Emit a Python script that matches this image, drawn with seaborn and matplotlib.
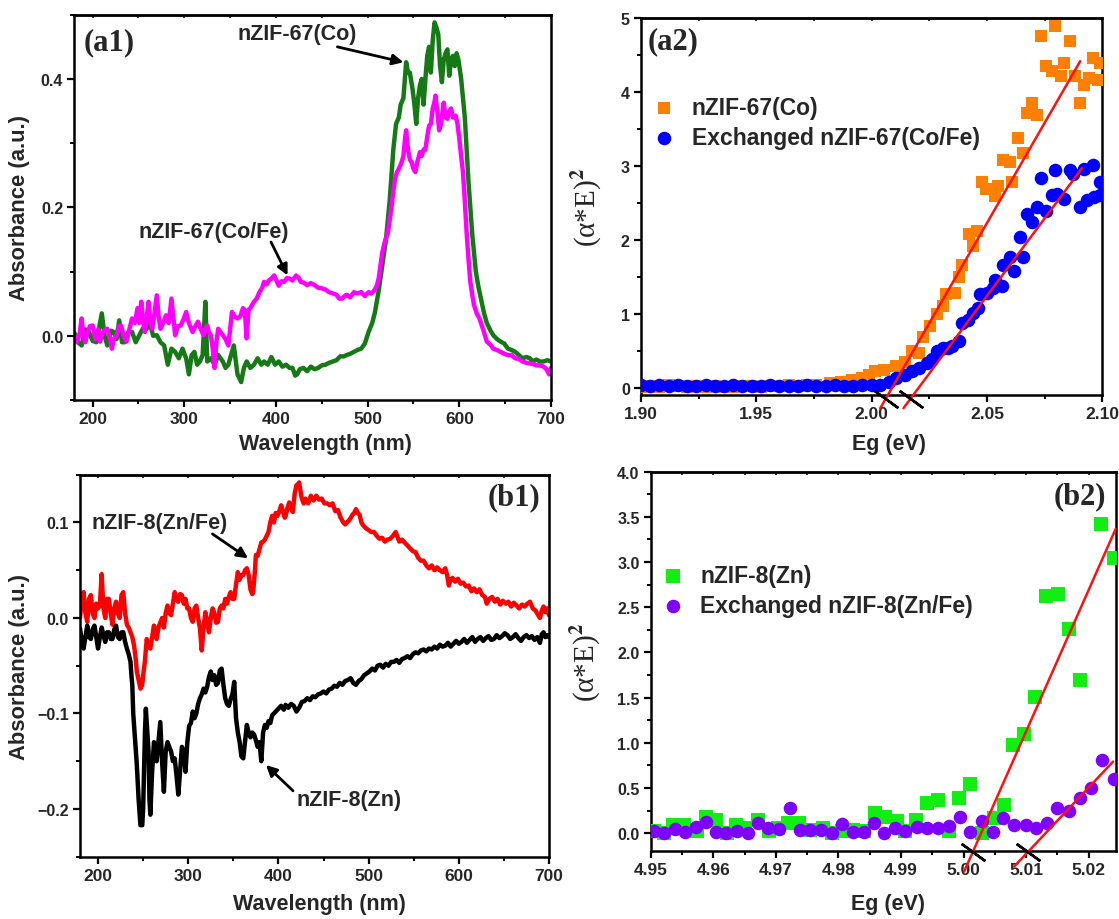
import matplotlib
matplotlib.use("Agg")
import matplotlib.pyplot as plt
from matplotlib.ticker import MultipleLocator, FormatStrFormatter
import seaborn as sns

# ---------------- (a1) UV-vis spectra, nZIF-67 ----------------
a1_co_wl = [180, 184, 188, 192, 196, 200, 204, 207, 210, 213, 216, 220, 223, 226, 229, 232, 235, 239,
            243, 247, 251, 255, 259, 262, 266, 270, 274, 278, 282, 286, 290, 294, 298, 302, 305, 308,
            311, 314, 317, 320, 323, 325, 329, 333, 337, 342, 345, 348, 351, 354, 358, 362, 365, 368,
            372, 376, 380, 384, 387, 391, 395, 399, 403, 407, 411, 415, 418, 421, 423, 426, 430, 434,
            438, 442, 446, 450, 454, 458, 462, 466, 470, 474, 477, 481, 485, 489, 493, 497, 501, 505,
            508, 512, 516, 520, 524, 528, 531, 534, 536, 539, 542, 544, 546, 549, 551, 553, 555, 557,
            559, 561, 563, 565, 567, 569, 571, 573, 575, 577, 579, 581, 583, 585, 587, 589, 591, 593,
            595, 597, 599, 602, 604, 606, 608, 610, 612, 614, 616, 618, 621, 624, 627, 630, 634, 637,
            641, 645, 649, 653, 657, 661, 665, 669, 673, 677, 680, 684, 688, 692, 696, 700]
a1_co_abs = [0.005, -0.01, -0.015, 0.01, 0.006, -0.008, -0.01, 0.012, 0.035, 0.0, -0.015, 0.008,
             0.006, -0.005, 0.024, -0.01, -0.01, 0.006, 0.006, -0.01, 0.001, 0.012, 0.011, 0.022, 0.0,
             0.001, -0.01, -0.015, -0.045, -0.02, -0.025, -0.035, -0.02, -0.035, -0.06, -0.03, -0.025,
             -0.045, -0.04, -0.03, 0.053, -0.04, -0.035, -0.045, -0.03, -0.04, -0.05, -0.045, -0.03,
             -0.015, -0.06, -0.072, -0.05, -0.04, -0.05, -0.045, -0.035, -0.045, -0.04, -0.045, -0.033,
             -0.045, -0.04, -0.048, -0.045, -0.05, -0.05, -0.062, -0.06, -0.052, -0.05, -0.055, -0.048,
             -0.052, -0.05, -0.046, -0.045, -0.042, -0.04, -0.038, -0.032, -0.032, -0.03, -0.028,
             -0.025, -0.022, -0.02, -0.012, 0.006, 0.02, 0.037, 0.07, 0.11, 0.15, 0.21, 0.29, 0.33,
             0.34, 0.36, 0.37, 0.426, 0.41, 0.41, 0.384, 0.36, 0.33, 0.37, 0.39, 0.40, 0.36, 0.40,
             0.436, 0.45, 0.41, 0.46, 0.488, 0.48, 0.47, 0.42, 0.395, 0.43, 0.44, 0.446, 0.405, 0.43,
             0.436, 0.42, 0.44, 0.43, 0.40, 0.37, 0.34, 0.29, 0.24, 0.20, 0.16, 0.13, 0.10, 0.075,
             0.055, 0.035, 0.02, 0.008, 0.001, -0.005, -0.009, -0.012, -0.02, -0.022, -0.025, -0.03,
             -0.035, -0.033, -0.035, -0.04, -0.037, -0.04, -0.04, -0.038, -0.04]

a1_cofe_wl = [180, 183, 186, 188, 190, 192, 194, 197, 200, 203, 206, 208, 211, 214, 216, 219, 221, 223,
              226, 229, 231, 234, 237, 240, 243, 246, 249, 251, 253, 255, 257, 259, 261, 263, 265, 267,
              270, 272, 274, 277, 280, 283, 286, 288, 290, 293, 296, 299, 302, 305, 309, 312, 315, 318,
              321, 323, 325, 327, 329, 331, 333, 335, 337, 340, 342, 345, 348, 350, 352, 355, 358, 361,
              364, 366, 368, 370, 372, 374, 376, 379, 382, 385, 387, 390, 392, 395, 398, 400, 403, 406,
              409, 412, 415, 418, 422, 425, 427, 430, 434, 438, 442, 446, 450, 454, 458, 462, 466, 469,
              472, 475, 477, 481, 485, 489, 493, 497, 501, 504, 507, 510, 512, 514, 516, 519, 522, 524,
              526, 528, 530, 532, 534, 537, 539, 541, 542, 544, 546, 548, 550, 552, 554, 556, 557, 559,
              561, 563, 565, 567, 569, 571, 573, 574, 576, 578, 580, 583, 585, 587, 589, 591, 593, 596,
              598, 600, 602, 604, 606, 608, 610, 612, 614, 616, 619, 622, 626, 630, 634, 637, 641, 645,
              649, 653, 657, 661, 665, 669, 673, 677, 681, 684, 688, 692, 695, 698, 700]
a1_cofe_abs = [0.0, -0.01, 0.005, 0.027, 0.0, -0.01, 0.003, 0.015, 0.016, -0.005, 0.01, -0.009, 0.005,
               0.01, 0.011, -0.005, -0.02, -0.005, 0.0, 0.015, 0.016, 0.0, -0.009, 0.01, 0.027, 0.02,
               0.043, 0.02, 0.053, 0.025, 0.006, 0.03, 0.053, 0.02, 0.011, 0.03, 0.063, 0.03, 0.011,
               0.02, 0.032, 0.02, 0.058, 0.03, 0.001, 0.015, 0.016, 0.025, 0.037, 0.02, 0.006, 0.015,
               0.022, 0.01, 0.001, 0.01, 0.016, 0.005, 0.001, -0.02, -0.05, -0.01, 0.011, 0.005, 0.001,
               -0.005, -0.015, 0.01, 0.037, 0.03, 0.027, 0.03, 0.043, 0.04, -0.004, 0.04, 0.043, 0.048,
               0.053, 0.058, 0.068, 0.075, 0.084, 0.08, 0.086, 0.089, 0.094, 0.088, 0.078, 0.085, 0.084,
               0.09, 0.089, 0.086, 0.094, 0.09, 0.084, 0.083, 0.079, 0.082, 0.079, 0.075, 0.074, 0.072,
               0.068, 0.066, 0.064, 0.058, 0.058, 0.062, 0.064, 0.06, 0.068, 0.066, 0.068, 0.062, 0.068,
               0.066, 0.07, 0.078, 0.089, 0.11, 0.13, 0.148, 0.16, 0.18, 0.20, 0.225, 0.245, 0.255, 0.26,
               0.27, 0.28, 0.31, 0.32, 0.29, 0.275, 0.27, 0.26, 0.255, 0.27, 0.28, 0.286, 0.28, 0.29,
               0.29, 0.31, 0.327, 0.33, 0.354, 0.365, 0.374, 0.35, 0.32, 0.33, 0.363, 0.34, 0.338, 0.35,
               0.354, 0.34, 0.343, 0.33, 0.307, 0.28, 0.255, 0.21, 0.16, 0.12, 0.084, 0.065, 0.048,
               0.035, 0.027, 0.01, -0.009, -0.014, -0.02, -0.022, -0.025, -0.028, -0.03, -0.03, -0.035,
               -0.036, -0.04, -0.042, -0.043, -0.044, -0.046, -0.046, -0.048, -0.052, -0.06, -0.05]

# ---------------- (b1) UV-vis spectra, nZIF-8 ----------------
b1_znfe_wl = [180, 182, 184, 186, 188, 190, 192, 194, 196, 198, 200, 202, 204, 206, 208, 210, 212, 214,
              216, 218, 220, 222, 224, 226, 228, 230, 232, 234, 236, 238, 240, 242, 243, 245, 247, 249,
              250, 252, 254, 256, 258, 260, 262, 264, 265, 267, 269, 271, 273, 275, 277, 279, 281, 283,
              285, 287, 289, 291, 293, 295, 297, 299, 301, 303, 305, 307, 309, 311, 313, 315, 317, 319,
              321, 323, 325, 327, 329, 331, 333, 335, 337, 339, 341, 343, 345, 347, 349, 351, 353, 355,
              357, 359, 361, 363, 365, 367, 369, 371, 372, 374, 375, 377, 379, 381, 383, 385, 387, 389,
              391, 393, 395, 397, 399, 401, 403, 405, 407, 408, 410, 412, 414, 416, 418, 420, 422, 423,
              425, 426, 428, 430, 433, 436, 439, 442, 445, 448, 451, 454, 457, 460, 463, 466, 469, 472,
              474, 476, 479, 482, 484, 486, 488, 490, 492, 494, 497, 500, 503, 506, 509, 512, 515, 518,
              521, 524, 527, 530, 532, 534, 537, 540, 543, 546, 549, 552, 555, 558, 561, 564, 567, 570,
              573, 576, 579, 582, 585, 587, 589, 591, 593, 596, 599, 602, 605, 608, 611, 614, 617, 620,
              623, 626, 629, 631, 634, 637, 640, 643, 646, 649, 652, 655, 658, 661, 664, 667, 670, 673,
              676, 679, 682, 685, 688, 690, 692, 694, 696, 698, 700]
b1_znfe_abs = [0.0, 0.02, 0.027, 0.005, -0.004, 0.02, 0.024, 0.005, 0.0, 0.015, 0.01, 0.013, 0.046,
               0.01, 0.0, 0.02, 0.02, 0.005, -0.007, 0.01, 0.017, 0.005, 0.0, 0.024, 0.027, 0.005,
               -0.007, -0.01, -0.015, -0.02, -0.029, -0.045, -0.056, -0.065, -0.074, -0.07, -0.06,
               -0.045, -0.022, -0.03, -0.032, -0.02, -0.008, -0.02, -0.022, -0.01, -0.005, 0.0, -0.01,
               0.005, 0.013, 0.005, 0.003, 0.015, 0.027, 0.02, 0.017, 0.025, 0.024, 0.015, 0.02, 0.01,
               0.01, 0.0, -0.004, 0.01, 0.013, 0.0, -0.011, -0.034, -0.01, 0.006, -0.005, -0.015, 0.0,
               0.01, 0.005, -0.005, -0.004, 0.01, 0.013, 0.01, 0.02, 0.015, 0.022, 0.027, 0.02, 0.02,
               0.035, 0.048, 0.04, 0.045, 0.045, 0.05, 0.052, 0.045, 0.03, 0.025, 0.027, 0.05, 0.066,
               0.065, 0.072, 0.079, 0.08, 0.082, 0.086, 0.09, 0.10, 0.107, 0.10, 0.11, 0.107, 0.112,
               0.118, 0.112, 0.105, 0.107, 0.115, 0.121, 0.115, 0.111, 0.13, 0.139, 0.14, 0.142, 0.13,
               0.125, 0.12, 0.125, 0.12, 0.128, 0.123, 0.128, 0.124, 0.125, 0.12, 0.12, 0.118, 0.12,
               0.112, 0.113, 0.105, 0.10, 0.098, 0.10, 0.103, 0.108, 0.11, 0.114, 0.11, 0.108, 0.10,
               0.097, 0.094, 0.092, 0.09, 0.09, 0.086, 0.083, 0.084, 0.08, 0.082, 0.083, 0.086, 0.09,
               0.085, 0.08, 0.082, 0.079, 0.076, 0.073, 0.07, 0.069, 0.063, 0.06, 0.06, 0.055, 0.052,
               0.055, 0.05, 0.053, 0.05, 0.048, 0.052, 0.045, 0.034, 0.04, 0.042, 0.038, 0.041, 0.036,
               0.037, 0.033, 0.034, 0.028, 0.031, 0.027, 0.03, 0.024, 0.022, 0.015, 0.02, 0.022, 0.017,
               0.02, 0.014, 0.018, 0.015, 0.017, 0.012, 0.016, 0.013, 0.01, 0.014, 0.012, 0.015, 0.017,
               0.01, 0.008, 0.003, 0.0, 0.008, 0.012, 0.006, 0.01, 0.003]

b1_zn_wl = [180, 182, 184, 186, 188, 190, 192, 194, 196, 198, 200, 202, 204, 206, 208, 210, 212, 214,
            216, 218, 220, 222, 224, 226, 228, 230, 232, 234, 236, 237, 238, 239, 241, 242, 243, 245,
            247, 249, 250, 252, 253, 254, 256, 257, 258, 260, 262, 264, 265, 267, 269, 271, 273, 275,
            277, 279, 281, 283, 285, 287, 289, 291, 293, 295, 297, 299, 301, 303, 305, 307, 309, 311,
            313, 315, 317, 319, 321, 323, 325, 327, 329, 331, 333, 335, 337, 339, 341, 343, 345, 347,
            349, 351, 353, 355, 357, 359, 361, 363, 365, 367, 369, 371, 373, 375, 377, 379, 381, 383,
            385, 387, 389, 391, 393, 395, 397, 400, 403, 406, 408, 411, 414, 417, 420, 423, 426, 429,
            432, 435, 438, 441, 444, 447, 450, 453, 456, 459, 462, 465, 468, 471, 474, 477, 480, 483,
            486, 489, 492, 495, 498, 501, 504, 507, 510, 513, 516, 519, 522, 525, 528, 531, 534, 537,
            540, 543, 546, 549, 552, 555, 558, 561, 564, 567, 570, 573, 576, 579, 582, 585, 588, 591,
            594, 597, 600, 603, 606, 609, 612, 615, 618, 621, 624, 627, 630, 633, 636, 639, 642, 645,
            648, 651, 654, 657, 660, 663, 666, 669, 672, 675, 678, 681, 684, 687, 690, 692, 694, 696,
            698, 700]
b1_zn_abs = [-0.011, -0.025, -0.032, -0.02, -0.008, -0.02, -0.022, -0.012, -0.008, -0.02, -0.032,
             -0.02, -0.01, -0.018, -0.025, -0.015, -0.015, -0.022, -0.022, -0.012, -0.008, -0.02,
             -0.022, -0.015, -0.015, -0.025, -0.032, -0.038, -0.046, -0.06, -0.07, -0.10, -0.126,
             -0.14, -0.154, -0.19, -0.217, -0.217, -0.20, -0.12, -0.095, -0.11, -0.14, -0.19, -0.206,
             -0.16, -0.13, -0.14, -0.15, -0.13, -0.109, -0.15, -0.182, -0.14, -0.13, -0.135, -0.14,
             -0.15, -0.147, -0.165, -0.185, -0.16, -0.135, -0.14, -0.161, -0.13, -0.113, -0.11, -0.098,
             -0.105, -0.10, -0.09, -0.084, -0.08, -0.074, -0.078, -0.072, -0.062, -0.056, -0.065, -0.06,
             -0.07, -0.068, -0.055, -0.053, -0.07, -0.084, -0.09, -0.092, -0.085, -0.08, -0.067, -0.105,
             -0.12, -0.13, -0.145, -0.147, -0.13, -0.112, -0.12, -0.125, -0.12, -0.122, -0.128, -0.135,
             -0.13, -0.15, -0.12, -0.112, -0.115, -0.108, -0.11, -0.102, -0.10, -0.098, -0.095, -0.092,
             -0.096, -0.091, -0.094, -0.09, -0.092, -0.098, -0.094, -0.088, -0.087, -0.084, -0.086,
             -0.082, -0.083, -0.08, -0.079, -0.077, -0.079, -0.075, -0.074, -0.071, -0.072, -0.068,
             -0.07, -0.066, -0.065, -0.063, -0.068, -0.07, -0.066, -0.064, -0.06, -0.058, -0.056,
             -0.053, -0.055, -0.05, -0.049, -0.052, -0.048, -0.05, -0.046, -0.046, -0.044, -0.047,
             -0.043, -0.042, -0.04, -0.042, -0.038, -0.036, -0.037, -0.034, -0.033, -0.035, -0.032,
             -0.033, -0.03, -0.032, -0.028, -0.03, -0.029, -0.026, -0.03, -0.027, -0.024, -0.027,
             -0.025, -0.022, -0.026, -0.023, -0.02, -0.025, -0.022, -0.02, -0.024, -0.021, -0.019,
             -0.023, -0.022, -0.018, -0.021, -0.019, -0.016, -0.018, -0.022, -0.02, -0.017, -0.021,
             -0.024, -0.02, -0.018, -0.021, -0.019, -0.023, -0.02, -0.026, -0.017, -0.015, -0.02,
             -0.018, -0.02]

# ---------------- (a2) Tauc plot, nZIF-67 ----------------
a2_co_eg = [1.900, 1.904, 1.908, 1.912, 1.916, 1.920, 1.924, 1.928, 1.932, 1.936, 1.940, 1.944, 1.948,
            1.952, 1.956, 1.960, 1.964, 1.968, 1.972, 1.976, 1.982, 1.9867, 1.9913, 1.996, 1.999,
            2.0014, 2.0053, 2.0107, 2.0146, 2.0176, 2.0207, 2.0223, 2.0254, 2.0285, 2.0308, 2.0324,
            2.0362, 2.0378, 2.0393, 2.0424, 2.0440, 2.0455, 2.0478, 2.0494, 2.0533, 2.0548, 2.0571,
            2.0598, 2.0610, 2.0633, 2.0656, 2.0672, 2.0695, 2.0718, 2.0734, 2.0757, 2.0780, 2.0796,
            2.0819, 2.0834, 2.0858, 2.0881, 2.0904, 2.0920, 2.0943, 2.0958, 2.0981, 2.0989]
a2_co_val = [0.02, 0.03, 0.02, 0.04, 0.03, 0.02, 0.03, 0.02, 0.03, 0.02, 0.02, 0.03, 0.03, 0.02,
             0.03, 0.03, 0.04, 0.03, 0.04, 0.05, 0.07, 0.09, 0.11, 0.14, 0.18, 0.23, 0.25, 0.30, 0.36,
             0.50, 0.48, 0.70, 0.84, 1.00, 1.11, 1.27, 1.29, 1.50, 1.66, 2.09, 1.93, 2.13, 2.79, 2.70,
             2.60, 2.74, 3.09, 3.06, 2.79, 3.38, 3.18, 3.72, 3.86, 3.70, 4.76, 4.36, 4.29, 4.90, 4.22,
             4.40, 4.70, 4.22, 3.86, 4.10, 4.20, 4.47, 4.17, 4.40]

a2_cofe_eg = [1.900, 1.904, 1.908, 1.912, 1.916, 1.920, 1.924, 1.928, 1.932, 1.936, 1.940, 1.944, 1.948,
              1.952, 1.956, 1.960, 1.964, 1.968, 1.972, 1.976, 1.980, 1.984, 1.988, 1.992, 1.996, 2.000,
              2.0037, 2.0076, 2.0107, 2.0146, 2.0176, 2.0207, 2.0238, 2.0262, 2.0285, 2.0308, 2.0331,
              2.0347, 2.0378, 2.0393, 2.0416, 2.0440, 2.0463, 2.0471, 2.0501, 2.0525, 2.0533, 2.0563,
              2.0571, 2.0598, 2.0618, 2.0641, 2.0656, 2.0672, 2.0695, 2.0718, 2.0734, 2.0757, 2.0780,
              2.0803, 2.0796, 2.0834, 2.0858, 2.0873, 2.0904, 2.0920, 2.0935, 2.0958, 2.0966, 2.0989,
              2.0989]
a2_cofe_val = [0.04, 0.03, 0.04, 0.03, 0.04, 0.03, 0.03, 0.04, 0.03, 0.03, 0.04, 0.03, 0.03, 0.03,
               0.04, 0.03, 0.03, 0.03, 0.04, 0.03, 0.03, 0.04, 0.03, 0.03, 0.04, 0.04, 0.05, 0.09, 0.14,
               0.18, 0.23, 0.27, 0.34, 0.39, 0.50, 0.54, 0.54, 0.57, 0.64, 0.88, 0.93, 1.02, 1.09, 1.27,
               1.29, 1.36, 1.47, 1.38, 1.66, 1.77, 1.59, 2.04, 1.77, 2.36, 2.25, 2.45, 2.84, 2.40, 2.61,
               2.63, 2.95, 2.56, 2.95, 2.90, 2.45, 2.97, 2.54, 3.02, 2.58, 2.79, 2.61]

# Linear fits (x-intercept = band gap, slope, x-range of the drawn line)
a2_fit_eg = [2.0087, 2.0202]
a2_fit_slope = [54.1, 41.9]
a2_fit_x0 = [2.0037, 2.0138]
a2_fit_x1 = [2.0904, 2.0912]

# ---------------- (b2) Tauc plot, nZIF-8 ----------------
b2_zn_eg = [4.9505, 4.9522, 4.9536, 4.9553, 4.9574, 4.9588, 4.9605, 4.9622, 4.9637, 4.9651, 4.9671,
            4.9689, 4.9703, 4.9720, 4.9737, 4.9755, 4.9775, 4.9789, 4.9806, 4.9824, 4.9841, 4.9858,
            4.9875, 4.9893, 4.9907, 4.9924, 4.9941, 4.9959, 4.9976, 4.9993, 5.0010, 5.0030, 5.0048,
            5.0065, 5.0079, 5.0097, 5.0114, 5.0131, 5.0151, 5.0168, 5.0186, 5.0220, 5.0240]
b2_zn_val = [0.02, 0.0, 0.09, 0.09, 0.02, 0.18, 0.15, 0.0, 0.09, 0.06, 0.15, 0.02, 0.06, 0.11, 0.11,
             0.04, 0.06, 0.0, 0.02, 0.04, 0.02, 0.22, 0.18, 0.13, 0.02, 0.15, 0.33, 0.37, 0.02, 0.39,
             0.55, 0.0, 0.17, 0.31, 0.98, 1.10, 1.51, 2.63, 2.65, 2.26, 1.69, 3.42, 3.05]

b2_znfe_eg = [4.9505, 4.9522, 4.9539, 4.9555, 4.9572, 4.9589, 4.9605, 4.9621, 4.9638, 4.9655, 4.9671,
              4.9688, 4.9705, 4.9722, 4.9738, 4.9755, 4.9772, 4.9789, 4.9806, 4.9824, 4.9841, 4.9857,
              4.9873, 4.9891, 4.9907, 4.9925, 4.9942, 4.9959, 4.9977, 4.9994, 5.0011, 5.0029, 5.0047,
              5.0063, 5.0081, 5.0099, 5.0116, 5.0133, 5.0150, 5.0168, 5.0186, 5.0203, 5.0221, 5.0240]
b2_znfe_val = [0.02, 0.0, 0.05, 0.01, 0.07, 0.12, 0.01, 0.0, 0.02, 0.0, 0.11, 0.06, 0.05, 0.28, 0.04,
               0.04, 0.04, 0.0, 0.10, 0.01, 0.01, 0.11, 0.0, 0.06, 0.02, 0.07, 0.06, 0.06, 0.08, 0.18,
               0.01, 0.13, 0.01, 0.17, 0.09, 0.09, 0.06, 0.11, 0.28, 0.25, 0.39, 0.50, 0.81, 0.60]

b2_fit_eg = [5.0028, 5.0131]
b2_fit_slope = [156.6, 73.4]
b2_fit_x0 = [5.0001, 5.0081]
b2_fit_x1 = [5.0243, 5.0239]

# ---------------- style ----------------
sns.set_style("ticks")
SANS = ["Liberation Sans", "DejaVu Sans"]
SERIF = ["Liberation Serif", "DejaVu Serif"]
plt.rcParams["font.family"] = SANS
plt.rcParams["font.weight"] = "bold"
plt.rcParams["mathtext.fontset"] = "stix"
plt.rcParams["axes.linewidth"] = 1.8

fig = plt.figure(figsize=(11.19, 9.2), dpi=100)
ax_a1 = fig.add_axes([0.0664, 0.5641, 0.4260, 0.4188])
ax_a2 = fig.add_axes([0.5728, 0.5699, 0.4123, 0.4091])
ax_b1 = fig.add_axes([0.0715, 0.0677, 0.4191, 0.4152])
ax_b2 = fig.add_axes([0.5815, 0.0736, 0.4155, 0.4126])


def style_axes(ax, xmaj, xmin, ymaj, ymin):
    for s in ax.spines.values():
        s.set_visible(True)
        s.set_color("black")
        s.set_linewidth(1.8)
    ax.xaxis.set_major_locator(MultipleLocator(xmaj))
    ax.xaxis.set_minor_locator(MultipleLocator(xmin))
    ax.yaxis.set_major_locator(MultipleLocator(ymaj))
    ax.yaxis.set_minor_locator(MultipleLocator(ymin))
    ax.tick_params(which="major", direction="out", length=5, width=1.6, color="black")
    ax.tick_params(which="minor", direction="out", length=3, width=1.4, color="black")
    ax.tick_params(axis="x", which="major", labelsize=12.5, pad=3)
    ax.tick_params(axis="y", which="major", labelsize=11.5, pad=3)
    # short inward marks on the top spine
    sec = ax.secondary_xaxis("top")
    sec.xaxis.set_major_locator(MultipleLocator(xmaj))
    sec.xaxis.set_minor_locator(MultipleLocator(xmin))
    sec.tick_params(which="both", direction="in", length=2.5, width=1.3, labeltop=False)
    sec.spines["top"].set_linewidth(1.8)
    ax.grid(False)


def label_axes(ax, xlabel, ylabel, xpos, ypos, yserif=False):
    ax.set_xlabel(xlabel, fontsize=15.5, fontweight="bold", family=SANS)
    if yserif:
        ax.set_ylabel(ylabel, fontsize=21, fontweight="normal", family=SERIF)
    else:
        ax.set_ylabel(ylabel, fontsize=15.8, fontweight="bold", family=SANS)
    ax.xaxis.set_label_coords(*xpos)
    ax.yaxis.set_label_coords(*ypos)


def panel_tag(ax, text, x, y, ha):
    ax.text(x, y, text, transform=ax.transAxes, ha=ha, va="center", fontsize=22,
            fontweight="bold", family=SERIF)


arrow_kw = dict(arrowstyle="-|>", color="black", lw=2.0, mutation_scale=16, shrinkA=0, shrinkB=0)
note_kw = dict(fontsize=15.5, fontweight="bold", ha="left", va="center")

# ---------------- (a1) ----------------
sns.lineplot(x=a1_co_wl, y=a1_co_abs, ax=ax_a1, color="#157a15", lw=3.2, estimator=None)
sns.lineplot(x=a1_cofe_wl, y=a1_cofe_abs, ax=ax_a1, color="#ff00ff", lw=3.2, estimator=None)
ax_a1.set_xlim(180, 700)
ax_a1.set_ylim(-0.1, 0.5)
style_axes(ax_a1, 100, 50, 0.2, 0.1)
label_axes(ax_a1, "Wavelength (nm)", "Absorbance (a.u.)", (0.526, -0.086), (-0.092, 0.5))
panel_tag(ax_a1, "(a1)", 0.019, 0.929, "left")
ax_a1.text(358, 0.47, "nZIF-67(Co)", **note_kw)
ax_a1.annotate("", xy=(539, 0.426), xytext=(467, 0.45), arrowprops=arrow_kw)
ax_a1.text(250, 0.162, "nZIF-67(Co/Fe)", **note_kw)
ax_a1.annotate("", xy=(412.6, 0.094), xytext=(394.6, 0.146), arrowprops=arrow_kw)

# ---------------- (b1) ----------------
sns.lineplot(x=b1_znfe_wl, y=b1_znfe_abs, ax=ax_b1, color="#ff0000", lw=3.2, estimator=None)
sns.lineplot(x=b1_zn_wl, y=b1_zn_abs, ax=ax_b1, color="black", lw=3.2, estimator=None)
ax_b1.set_xlim(180, 700)
ax_b1.set_ylim(-0.25, 0.15)
style_axes(ax_b1, 100, 50, 0.1, 0.05)
label_axes(ax_b1, "Wavelength (nm)", "Absorbance (a.u.)", (0.51, -0.095), (-0.106, 0.5))
panel_tag(ax_b1, "(b1)", 0.981, 0.942, "right")
ax_b1.text(193, 0.1005, "nZIF-8(Zn/Fe)", **note_kw)
ax_b1.annotate("", xy=(366.3, 0.0625), xytext=(326.9, 0.088), arrowprops=arrow_kw)
ax_b1.text(419.5, -0.19, "nZIF-8(Zn)", **note_kw)
ax_b1.annotate("", xy=(386.2, -0.154), xytext=(416.2, -0.181), arrowprops=arrow_kw)


def draw_fits(ax, egs, slopes, x0s, x1s, mark_y):
    for eg, k, xa, xb in zip(egs, slopes, x0s, x1s):
        xs = [xa, xb]
        ys = [k * (xa - eg), k * (xb - eg)]
        ax.plot(xs, ys, color="#ff1010", lw=1.8, clip_on=False, zorder=5)
        # black cross tick at the intercept with the axis
        ax.plot([eg + mark_y / k], [mark_y], marker=(2, 2, 54), markersize=21,
                markeredgewidth=1.8, color="black", clip_on=False, zorder=6)


legend_kw = dict(loc="upper left", frameon=False, borderaxespad=0,
                 prop=dict(family=SANS, weight="bold", size=16.5), handletextpad=0.7,
                 labelspacing=0.3, borderpad=0, handlelength=1.0)

# ---------------- (a2) ----------------
sns.scatterplot(x=a2_co_eg, y=a2_co_val, ax=ax_a2, marker="s", s=72, color="#ff8000",
                linewidth=0, label="nZIF-67(Co)", zorder=3)
sns.scatterplot(x=a2_cofe_eg, y=a2_cofe_val, ax=ax_a2, marker="o", s=95, color="#0000ff",
                linewidth=0, label="Exchanged nZIF-67(Co/Fe)", zorder=4)
draw_fits(ax_a2, a2_fit_eg, a2_fit_slope, a2_fit_x0, a2_fit_x1, -0.14)
ax_a2.set_xlim(1.90, 2.10)
ax_a2.set_ylim(-0.086, 5)
style_axes(ax_a2, 0.05, 0.025, 1, 0.5)
ax_a2.xaxis.set_major_formatter(FormatStrFormatter("%.2f"))
label_axes(ax_a2, "Eg (eV)", "(α*E)$^2$", (0.537, -0.102), (-0.082, 0.5), yserif=True)
panel_tag(ax_a2, "(a2)", 0.015, 0.94, "left")
ax_a2.legend(bbox_to_anchor=(0.026, 0.793), **legend_kw)

# ---------------- (b2) ----------------
sns.scatterplot(x=b2_zn_eg, y=b2_zn_val, ax=ax_b2, marker="s", s=88, color="#11ee11",
                linewidth=0, label="nZIF-8(Zn)", zorder=3)
sns.scatterplot(x=b2_znfe_eg, y=b2_znfe_val, ax=ax_b2, marker="o", s=95, color="#8000ff",
                linewidth=0, label="Exchanged nZIF-8(Zn/Fe)", zorder=4)
draw_fits(ax_b2, b2_fit_eg, b2_fit_slope, b2_fit_x0, b2_fit_x1, -0.21)
ax_b2.set_xlim(4.95, 5.0243)
ax_b2.set_ylim(-0.2, 4.0)
style_axes(ax_b2, 0.01, 0.005, 0.5, 0.25)
ax_b2.xaxis.set_major_formatter(FormatStrFormatter("%.2f"))
ax_b2.yaxis.set_major_formatter(FormatStrFormatter("%.1f"))
label_axes(ax_b2, "Eg (eV)", "(α*E)$^2$", (0.511, -0.11), (-0.105, 0.5), yserif=True)
panel_tag(ax_b2, "(b2)", 0.979, 0.937, "right")
ax_b2.legend(bbox_to_anchor=(0.023, 0.757), **legend_kw)

for ax in (ax_a1, ax_a2, ax_b1, ax_b2):
    for lab in ax.get_xticklabels() + ax.get_yticklabels():
        lab.set_fontweight("bold")

fig.savefig("out.png", dpi=100)
